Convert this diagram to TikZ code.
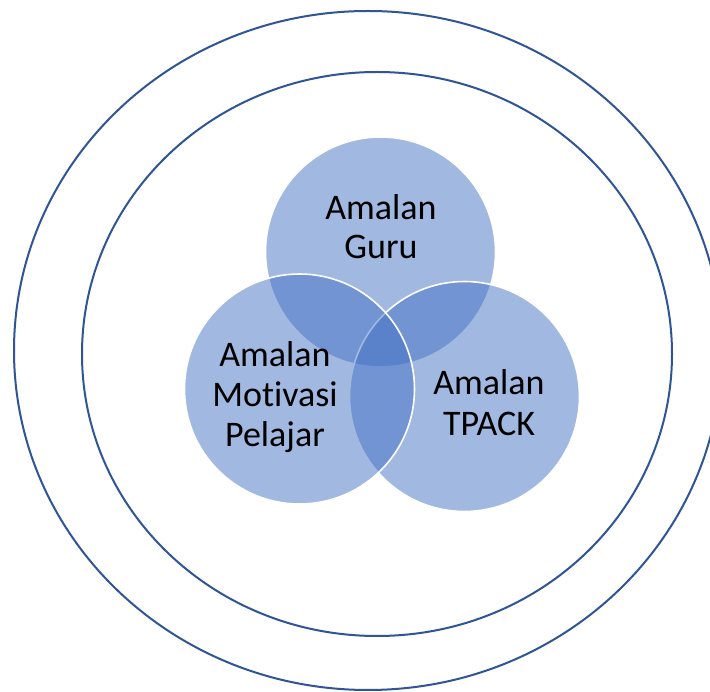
\documentclass[tikz,border=0pt]{standalone}
\usepackage{fontspec}
\setmainfont{Carlito}[Ligatures={NoCommon}]
\definecolor{ringblue}{HTML}{2F5597}
\definecolor{vennblue}{HTML}{4472C4}
\begin{document}
\begin{tikzpicture}[x=1pt,y=-1pt,
  ring/.style={draw=ringblue,line width=2pt},
  venn/.style={fill=vennblue,fill opacity=0.5,draw=white,line width=1.6pt},
  lbl/.style={font=\fontsize{36}{39}\selectfont,anchor=base,inner sep=0pt,text=black}]
\useasboundingbox (0,0) rectangle (710,692);
\fill[white] (0,0) rectangle (710,692);
\draw[ring] (368,350.5) ellipse [x radius=354pt, y radius=339.5pt];
\draw[ring] (377,354) ellipse [x radius=295pt, y radius=282pt];
\coordinate (ctop) at (380.5,252);
\coordinate (cright) at (464.5,396.5);
\coordinate (cleft) at (299.5,389);
\draw[venn] (ctop) circle [radius=115pt];
\draw[venn] (cright) circle [radius=115pt];
\draw[venn] (cleft) circle [radius=115pt];
\node[lbl] (g1) at (381,220) {Amalan};
\node[lbl] (g2) at (381,259) {Guru};
\node[lbl] (m1) at (275,367) {Amalan};
\node[lbl] (m2) at (275,407) {Motivasi};
\node[lbl] (m3) at (275,447) {Pelajar};
\node[lbl] (t1) at (489,395) {Amalan};
\node[lbl] (t2) at (489,436) {TPACK};
\end{tikzpicture}
\end{document}
